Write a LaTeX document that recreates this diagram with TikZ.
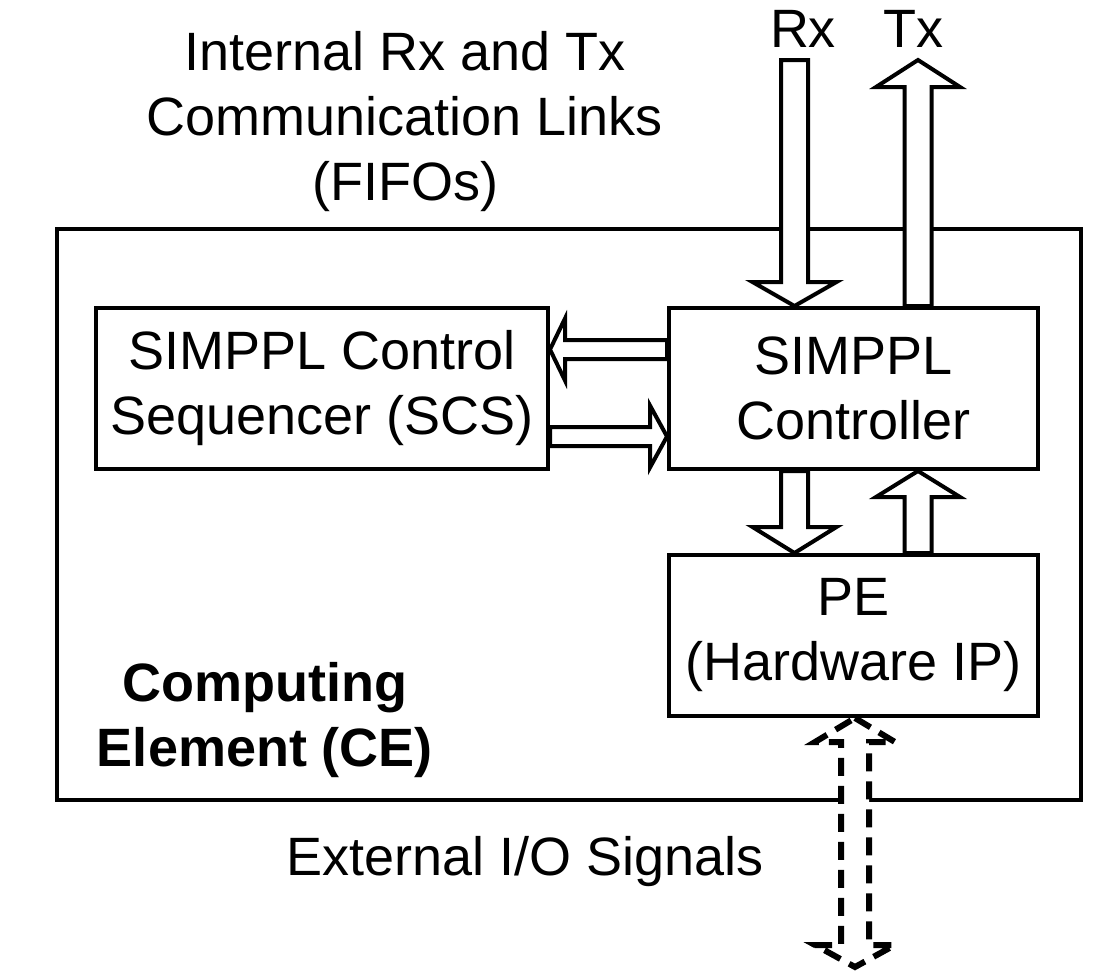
\documentclass[tikz,border=0pt]{standalone}
\usepackage{fontspec}
\setmainfont{Liberation Sans}
\usetikzlibrary{calc,positioning}

% hollow block arrow: from, to, shaft half width, head half width, head length
\newcommand\blockarrow[5]{%
  \coordinate (bah) at ($(#2)!#5!(#1)$);
  \draw[block] ($(#1)!#3!90:(#2)$) -- ($(bah)!#3!-90:(#1)$) -- ($(bah)!#4!-90:(#1)$)
    -- (#2) -- ($(bah)!#4!90:(#1)$) -- ($(bah)!#3!90:(#1)$) -- ($(#1)!#3!-90:(#2)$) -- cycle;
}

\begin{document}
\begin{tikzpicture}[
    x=0.5pt,
    y=-0.5pt,
    line join=miter,
    font=\fontsize{27}{32.5}\selectfont,
    box/.style={
        draw,
        line width=2pt,
        inner sep=0pt,
        minimum height=80.5pt,
        align=center
    },
    label/.style={align=center},
    block/.style={draw,fill=white,line width=2pt},
    ioarrow/.style={draw,fill=white,line width=3pt,dash pattern=on 9pt off 5pt}
]
\useasboundingbox (0,0) rectangle (1099,975);

% boxes
\node[box,minimum width=512pt,minimum height=285.5pt] (ce) at (569,514.5) {};
\node[box,minimum width=226pt] (scs) at (322,388.5) {SIMPPL Control\\Sequencer (SCS)};
\node[box,minimum width=184.5pt] (ctrl) at (853.5,388.5) {SIMPPL\\Controller};
\node[box,minimum width=184.5pt] (pe) at (853.5,635.5) {PE\\(Hardware IP)};

\node[label,font=\fontsize{27}{32.5}\selectfont\bfseries] (cename) at (265,720) {Computing\\Element (CE)};
\node[label] (links) at (405,122) {Internal Rx and Tx\\Communication Links\\(FIFOs)};
\node[label] (rx) at (803,29) {Rx};
\node[label] (tx) at (913,29) {Tx};
\node[label] (ext) at (525,862) {External I/O Signals};

% connectors
\coordinate (rxin) at (794.5,60);
\coordinate (txout) at (918,60);
\coordinate (rxend) at (ctrl.north -| rxin);
\coordinate (txstart) at (ctrl.north -| txout);
\blockarrow{rxin}{rxend}{6.75pt}{21pt}{12pt}
\blockarrow{txstart}{txout}{6.75pt}{21pt}{13.5pt}

\coordinate (c2s) at ($(ctrl.west)+(0,-39)$);
\coordinate (c2send) at (scs.east |- c2s);
\blockarrow{c2s}{c2send}{4.75pt}{15.5pt}{7.5pt}
\coordinate (s2c) at ($(scs.east)+(0,48)$);
\coordinate (s2cend) at (ctrl.west |- s2c);
\blockarrow{s2c}{s2cend}{4.75pt}{15.5pt}{8.5pt}

\coordinate (c2p) at (ctrl.south -| rxin);
\coordinate (c2pend) at (pe.north -| rxin);
\blockarrow{c2p}{c2pend}{6.75pt}{21pt}{13pt}
\coordinate (p2c) at (pe.north -| txout);
\coordinate (p2cend) at (ctrl.south -| txout);
\blockarrow{p2c}{p2cend}{6.75pt}{21pt}{13pt}

% external i/o
\coordinate (io) at (855,967);
\coordinate (iotop) at (pe.south -| io);
\draw[ioarrow] (iotop) -- ++(40,24) -- ++(-26,0) -- ($(io)+(14,-22)$) -- ++(26,0) -- (io)
    -- ++(-40,-22) -- ++(26,0) -- ($(iotop)+(-14,24)$) -- ++(-26,0) -- cycle;

\end{tikzpicture}
\end{document}
